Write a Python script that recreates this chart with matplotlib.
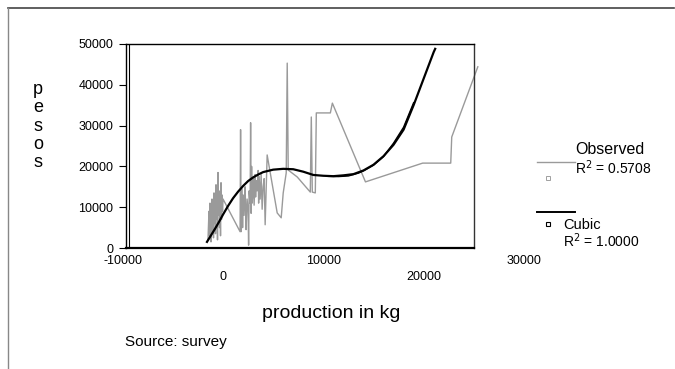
import matplotlib
matplotlib.use("Agg")
import matplotlib.pyplot as plt
from matplotlib.lines import Line2D
from matplotlib.transforms import blended_transform_factory

plt.rcParams['font.family'] = ['Liberation Sans', 'DejaVu Sans']

# Observed series (production in kg, pesos)
obs_x = [-1500, -1400, -1350, -1300, -1200, -1150, -1100, -1050, -1000, -950,
         -900, -850, -800, -750, -700, -650, -600, -550, -500, -450,
         -400, -350, -300, -250, -200, -150, -100, -50, 0,
         1700, 1750, 1800, 1900, 1950, 2000, 2100, 2200, 2250, 2300,
         2400, 2500, 2550, 2600, 2700, 2750, 2800, 2850, 2900, 2950,
         3000, 3100, 3200, 3250, 3300, 3400, 3500, 3550, 3600, 3700,
         3800, 3900, 4000, 4100, 4200, 4400,
         5400, 5800, 6000, 6300, 6400, 6500, 7400, 8700, 8800, 8900,
         9200, 9300, 10700, 10900, 14200, 19900, 22700, 22800, 25400]
obs_y = [2000, 9000, 3000, 11000, 1500, 8000, 12000, 4000, 10000, 2500,
         13500, 6000, 11000, 3500, 15500, 7000, 12500, 2000, 18500, 8000,
         14000, 5000, 12000, 3000, 16000, 7000, 13000, 9000, 12000,
         4000, 29000, 4000, 14500, 5000, 13000, 8000, 15000, 10000, 4500,
         12000, 9000, 700, 14000, 11000, 30700, 8500, 20000, 11000, 13000,
         17000, 10500, 18000, 12500, 16500, 14000, 19000, 11000, 17500, 12000,
         18000, 9500, 15000, 17000, 5700, 22800,
         8600, 7400, 13500, 18400, 45300, 19100, 17400, 13700, 32100, 13700,
         13500, 33100, 33100, 35500, 16200, 20800, 20800, 27200, 44400]

# Cubic fit as drawn
cub_x = [-1600, -1200, -800, -400, 0, 500, 1000, 1500, 2000, 2500, 3000,
         3500, 4000, 5000, 6000, 7000, 8000, 9000, 10000, 11000, 12000,
         13000, 14000, 15000, 16000, 17000, 18000, 19000, 20000, 21000, 21150]
cub_y = [1500, 3100, 4700, 6400, 8200, 10300, 12200, 13800, 15200, 16400, 17300,
         18000, 18600, 19200, 19400, 19300, 18700, 17900, 17700, 17600, 17800,
         18100, 19000, 20400, 22500, 25300, 29000, 35000, 41500, 48000, 48800]

# second pass of the fitted line (the chart draws it twice in places)
cub2_x = [10500, 11500, 12500, 13500, 14000, 15000, 16000, 17000, 18000, 19000]
cub2_y = [17550, 17500, 17650, 18350, 18900, 20300, 22400, 25700, 29600, 35600]

y_ticks = [0, 10000, 20000, 30000, 40000, 50000]
x_row1 = [-10000, 10000, 30000]
x_row2 = [0, 20000]

fig = plt.figure(figsize=(6.75, 3.69), dpi=100)
ax = fig.add_axes([0.1867, 0.3279, 0.5156, 0.553])

ax.plot(obs_x, obs_y, color='#9a9a9a', lw=1.0, clip_on=False)
ax.plot(cub2_x, cub2_y, color='black', lw=1.0)
ax.plot(cub_x, cub_y, color='black', lw=1.6)

ax.set_xlim(-9670, 25025)
ax.set_ylim(0, 50000)
ax.set_yticks(y_ticks)
ax.set_yticklabels([str(v) for v in y_ticks], fontsize=9)
ax.tick_params(axis='y', length=5, width=0.8, pad=4)
ax.set_xticks([])
for s in ax.spines.values():
    s.set_linewidth(1.0)
ax.spines['bottom'].set_linewidth(1.6)
ax.spines['right'].set_color('#333333')

# double left axis line
ax.axvline(-9670 + 250, color='black', lw=0.8)

tr = blended_transform_factory(ax.transData, ax.transAxes)
for v in x_row1:
    ax.text(v, -0.065, str(v), transform=tr, ha='center', va='center', fontsize=9, clip_on=False)
for v in x_row2:
    ax.text(v, -0.14, str(v), transform=tr, ha='center', va='center', fontsize=9, clip_on=False)

fig.text(331 / 675, 1 - 313 / 369, 'production in kg', ha='center', va='center', fontsize=14)
fig.text(38 / 675, 1 - 126 / 369, 'p\ne\ns\no\ns', ha='center', va='center', fontsize=13, linespacing=1.08)
fig.text(125 / 675, 1 - 342 / 369, 'Source: survey', ha='left', va='center', fontsize=11)

# legend, drawn by hand
def fx(px):
    return px / 675

def fy(py):
    return 1 - py / 369

fig.add_artist(Line2D([fx(537), fx(575)], [fy(162), fy(162)], color='#9a9a9a', lw=1.0))
fig.add_artist(Line2D([fx(548)], [fy(178)], marker='s', markersize=3, mfc='white', mec='#a0a0a0', mew=0.7, ls='none'))
fig.text(fx(575), fy(149), 'Observed', ha='left', va='center', fontsize=11.5)
fig.text(fx(575), fy(167.5), 'R$^2$ = 0.5708', ha='left', va='center', fontsize=10)

fig.add_artist(Line2D([fx(537), fx(575)], [fy(212), fy(212)], color='black', lw=1.4))
fig.add_artist(Line2D([fx(548)], [fy(224)], marker='s', markersize=3, mfc='white', mec='black', mew=0.8, ls='none'))
fig.text(fx(563), fy(225), 'Cubic', ha='left', va='center', fontsize=10.5)
fig.text(fx(563), fy(241), 'R$^2$ = 1.0000', ha='left', va='center', fontsize=10)

# outer frame
fig.add_artist(Line2D([fx(8), 0.998], [fy(8), fy(8)], color='#444444', lw=1.2))
fig.add_artist(Line2D([fx(8), fx(8)], [fy(8), 0.0], color='#888888', lw=1.0))

fig.savefig('out.png', dpi=100)
